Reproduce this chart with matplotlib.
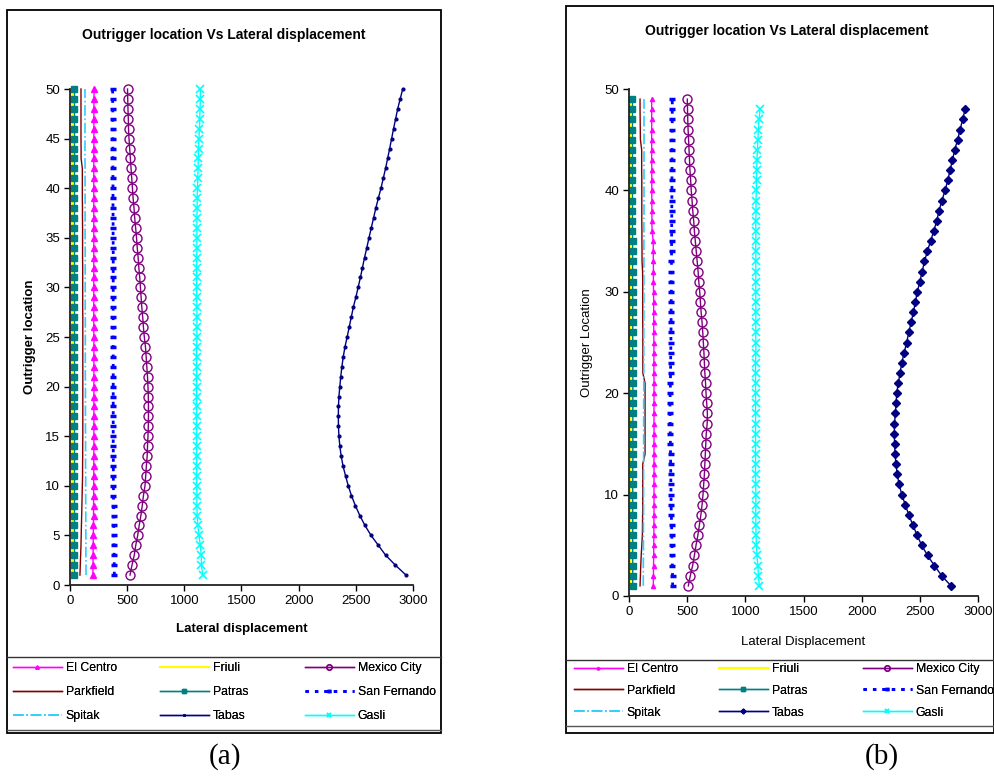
import matplotlib
matplotlib.use("Agg")
import matplotlib.pyplot as plt
from matplotlib.patches import Rectangle
from matplotlib.lines import Line2D

plt.rcParams['font.family'] = ['Liberation Sans', 'DejaVu Sans']

W, H = 995, 776

# ---- data, panel (a): floors 1..50 ----
floors_a = list(range(1, 51))
el_centro_a = [200, 201, 202, 203, 204, 205, 206, 206, 207, 207,
               208, 208, 208, 209, 209, 209, 209, 209, 209, 209,
               209, 209, 209, 209, 209, 208, 208, 208, 208, 208,
               208, 208, 208, 208, 208, 208, 208, 208, 208, 208,
               208, 208, 208, 209, 209, 209, 209, 209, 210, 210]
friuli_a = [18, 18, 18, 18, 18, 18, 18, 18, 18, 18,
            18, 18, 18, 18, 18, 18, 18, 18, 18, 18,
            18, 18, 18, 18, 18, 18, 18, 18, 18, 18,
            18, 18, 18, 18, 18, 18, 18, 18, 18, 18,
            18, 18, 18, 18, 18, 18, 18, 18, 18, 18]
mexico_a = [525, 542, 562, 575, 592, 605, 620, 632, 642, 656,
            662, 668, 675, 678, 682, 685, 686, 686, 685, 682,
            678, 672, 666, 660, 650, 642, 636, 628, 622, 616,
            610, 602, 596, 588, 582, 574, 566, 560, 552, 546,
            540, 534, 528, 522, 516, 512, 510, 507, 505, 503]
parkfield_a = [87, 90, 93, 96, 98, 100, 102, 104, 106, 108,
               110, 110, 111, 111, 112, 112, 112, 112, 112, 112,
               112, 112, 112, 112, 112, 112, 112, 111, 111, 111,
               111, 111, 110, 110, 110, 110, 109, 109, 108, 108,
               108, 108, 97, 97, 96, 96, 96, 96, 96, 96]
patras_a = [38, 38, 38, 38, 38, 38, 38, 38, 38, 38,
            38, 38, 38, 38, 38, 38, 38, 38, 38, 38,
            38, 38, 38, 38, 38, 38, 38, 38, 38, 38,
            38, 38, 38, 38, 38, 38, 38, 38, 38, 38,
            38, 38, 38, 38, 38, 38, 38, 38, 38, 38]
san_fern_a = [388, 387, 386, 385, 384, 383, 382, 381, 380, 380,
              379, 379, 379, 378, 378, 378, 378, 378, 378, 378,
              378, 378, 378, 378, 378, 378, 378, 378, 378, 378,
              378, 378, 378, 378, 377, 377, 377, 376, 376, 376,
              376, 375, 375, 375, 375, 374, 374, 374, 373, 373]
spitak_a = [140, 140, 139, 139, 139, 138, 138, 138, 137, 137,
            137, 136, 136, 136, 136, 135, 135, 135, 135, 135,
            134, 134, 134, 134, 134, 134, 134, 133, 133, 133,
            133, 133, 133, 133, 132, 132, 132, 132, 132, 132,
            132, 132, 131, 131, 131, 131, 131, 131, 131, 131]
tabas_a = [2939, 2846, 2761, 2697, 2633, 2580, 2535, 2496, 2462, 2434,
           2410, 2388, 2372, 2360, 2352, 2348, 2347, 2348, 2352, 2360,
           2368, 2378, 2390, 2405, 2424, 2442, 2460, 2478, 2500, 2520,
           2540, 2558, 2576, 2596, 2615, 2635, 2655, 2675, 2697, 2720,
           2740, 2760, 2778, 2796, 2813, 2830, 2848, 2866, 2888, 2910]
gasli_a = [1160, 1150, 1148, 1140, 1128, 1118, 1112, 1110, 1110, 1108,
           1108, 1108, 1108, 1108, 1108, 1108, 1108, 1108, 1108, 1108,
           1108, 1108, 1108, 1108, 1110, 1110, 1110, 1110, 1108, 1108,
           1108, 1108, 1108, 1110, 1110, 1110, 1110, 1112, 1112, 1115,
           1118, 1120, 1122, 1124, 1128, 1132, 1135, 1137, 1140, 1140]

# ---- data, panel (b): floors 1..49 (Tabas, Gasli 1..48) ----
floors_b = list(range(1, 50))
floors_b48 = list(range(1, 49))
el_centro_b = [209, 210, 211, 212, 213, 214, 214, 215, 215, 215,
               215, 215, 215, 215, 215, 215, 215, 215, 215, 215,
               215, 214, 214, 214, 214, 213, 213, 212, 212, 211,
               210, 210, 209, 209, 208, 198, 197, 197, 196, 196,
               196, 196, 195, 195, 195, 195, 195, 195, 195]
friuli_b = [10, 10, 10, 10, 10, 10, 10, 10, 10, 10,
            10, 10, 10, 10, 10, 10, 10, 10, 10, 10,
            10, 10, 10, 10, 10, 10, 10, 10, 10, 10,
            10, 10, 10, 10, 10, 10, 10, 10, 10, 10,
            10, 10, 10, 10, 10, 10, 10, 10, 10]
mexico_b = [510, 527, 547, 562, 576, 592, 605, 618, 628, 636,
            642, 648, 652, 656, 660, 664, 672, 674, 668, 662,
            658, 652, 648, 644, 639, 634, 628, 620, 614, 608,
            600, 594, 586, 578, 570, 562, 556, 548, 542, 535,
            530, 524, 520, 516, 512, 508, 505, 503, 501]
parkfield_b = [95, 98, 101, 105, 110, 115, 116, 117, 118, 118,
               118, 118, 118, 138, 138, 138, 138, 138, 138, 138,
               138, 119, 119, 119, 119, 119, 118, 118, 118, 118,
               118, 117, 112, 112, 111, 111, 110, 110, 110, 110,
               110, 109, 109, 109, 98, 97, 96, 95, 95]
patras_b = [32, 32, 32, 32, 32, 32, 32, 32, 32, 32,
            32, 32, 33, 33, 33, 33, 33, 33, 33, 33,
            33, 33, 33, 32, 32, 32, 32, 32, 32, 32,
            31, 31, 31, 31, 31, 30, 30, 30, 30, 30,
            30, 30, 30, 30, 30, 30, 30, 30, 30]
san_fern_b = [375, 374, 373, 372, 370, 368, 366, 364, 362, 361,
              360, 359, 358, 357, 356, 355, 354, 353, 352, 354,
              356, 357, 358, 359, 360, 361, 362, 362, 363, 364,
              364, 365, 365, 366, 366, 367, 367, 368, 368, 369,
              369, 370, 370, 370, 371, 371, 372, 372, 372]
spitak_b = [123, 123, 123, 124, 124, 124, 124, 125, 125, 125,
            125, 125, 126, 126, 126, 126, 126, 126, 126, 127,
            127, 127, 127, 127, 127, 127, 127, 128, 128, 128,
            128, 128, 128, 128, 128, 128, 128, 129, 129, 129,
            129, 129, 129, 129, 129, 129, 129, 129, 129]
tabas_b = [2768, 2688, 2625, 2566, 2516, 2476, 2440, 2405, 2375, 2345,
           2322, 2306, 2295, 2287, 2283, 2281, 2282, 2290, 2296, 2301,
           2315, 2330, 2345, 2365, 2387, 2405, 2425, 2445, 2462, 2478,
           2500, 2520, 2540, 2565, 2592, 2620, 2645, 2665, 2690, 2717,
           2740, 2760, 2780, 2800, 2825, 2846, 2868, 2889]
gasli_b = [1120, 1112, 1108, 1100, 1095, 1092, 1090, 1090, 1090, 1090,
           1090, 1088, 1088, 1088, 1088, 1088, 1088, 1088, 1088, 1088,
           1088, 1088, 1088, 1090, 1090, 1090, 1090, 1090, 1090, 1090,
           1090, 1090, 1090, 1090, 1090, 1090, 1090, 1092, 1092, 1094,
           1096, 1098, 1100, 1104, 1108, 1112, 1118, 1126]

names = ["El Centro", "Friuli", "Mexico City", "Parkfield", "Patras",
         "San Fernando", "Spitak", "Tabas", "Gasli"]


def fx(x):
    return x / W


def fy(y):
    return 1 - y / H


def styles(panel):
    tabas_marker = dict(marker='.', ms=4) if panel == 'a' else dict(marker='D', ms=4)
    return {
        "El Centro": dict(color='#FF00FF', lw=1, marker='^', ms=4 if panel == 'a' else 3),
        "Friuli": dict(color='#FFFF00', lw=1.5),
        "Mexico City": dict(color='#800080', lw=1, marker='o', ms=6.5, mfc='none', mew=1),
        "Parkfield": dict(color='#800000', lw=1),
        "Patras": dict(color='#008080', lw=1, marker='s', ms=5),
        "San Fernando": dict(color='#0000FF', lw=2, ls=(0, (1.2, 2.2)), marker='_', ms=5, mew=2.5),
        "Spitak": dict(color='#33CCFF', lw=1.2, ls='-.'),
        "Tabas": dict(color='#000080', lw=1, **tabas_marker),
        "Gasli": dict(color='#00FFFF', lw=1, marker='x', ms=6, mew=1.2),
    }


def frame(x0, y0, x1, y1, ydiv, ybot2):
    fig.add_artist(Rectangle((fx(x0), fy(y1)), fx(x1) - fx(x0), fy(y0) - fy(y1),
                             transform=fig.transFigure, fill=False, lw=1.3, ec='black'))
    fig.add_artist(Line2D([fx(x0), fx(x1)], [fy(ydiv), fy(ydiv)],
                          transform=fig.transFigure, lw=1.0, color='#333333'))
    fig.add_artist(Line2D([fx(x0), fx(x1)], [fy(ybot2), fy(ybot2)],
                          transform=fig.transFigure, lw=1.0, color='#555555'))


def panel(rect, series, yticks, bold, xlab, ylab, xl_y, yl_x, leg_x, leg_y, leg_sp, panel_id):
    ax = fig.add_axes(rect)
    st = styles(panel_id)
    handles = {}
    for name in names:
        fl, vals = series[name]
        ln, = ax.plot(vals, fl, clip_on=False, label=name, **st[name])
        handles[name] = ln
    ax.set_xlim(0, 3000)
    ax.set_ylim(0, 50)
    ax.set_xticks(range(0, 3001, 500))
    ax.set_yticks(yticks)
    for s in ['top', 'right']:
        ax.spines[s].set_visible(False)
    for s in ['left', 'bottom']:
        ax.spines[s].set_linewidth(1.3)
        ax.spines[s].set_color('#222222')
    ax.tick_params(direction='out', length=4, width=1, labelsize=9.5, pad=3)
    w = 'bold' if bold else 'normal'
    ax.set_xlabel(xlab, fontsize=9.5, fontweight=w)
    ax.set_ylabel(ylab, fontsize=9.5, fontweight=w)
    ax.xaxis.set_label_coords(0.5, xl_y)
    ax.yaxis.set_label_coords(yl_x, 0.5)
    cols = [["El Centro", "Parkfield", "Spitak"],
            ["Friuli", "Patras", "Tabas"],
            ["Mexico City", "San Fernando", "Gasli"]]
    for cx, col in zip(leg_x, cols):
        lg = fig.legend([handles[n] for n in col], col, loc='upper left',
                        bbox_to_anchor=(fx(cx), fy(leg_y)), bbox_transform=fig.transFigure,
                        frameon=False, fontsize=8.8, handlelength=4.0, handletextpad=0.32,
                        labelspacing=leg_sp, borderpad=0, borderaxespad=0, numpoints=1,
                        markerscale=0.6)
        fig.add_artist(lg)
    return ax


fig = plt.figure(figsize=(W / 100, H / 100), dpi=100)

series_a = {
    "El Centro": (floors_a, el_centro_a), "Friuli": (floors_a, friuli_a),
    "Mexico City": (floors_a, mexico_a), "Parkfield": (floors_a, parkfield_a),
    "Patras": (floors_a, patras_a), "San Fernando": (floors_a, san_fern_a),
    "Spitak": (floors_a, spitak_a), "Tabas": (floors_a, tabas_a),
    "Gasli": (floors_a, gasli_a),
}
series_b = {
    "El Centro": (floors_b, el_centro_b), "Friuli": (floors_b, friuli_b),
    "Mexico City": (floors_b, mexico_b), "Parkfield": (floors_b, parkfield_b),
    "Patras": (floors_b, patras_b), "San Fernando": (floors_b, san_fern_b),
    "Spitak": (floors_b, spitak_b), "Tabas": (floors_b48, tabas_b),
    "Gasli": (floors_b48, gasli_b),
}

# panel (a)
frame(7, 10, 441, 733, 657, 730)
panel([fx(70), fy(585), fx(413) - fx(70), fy(89) - fy(585)], series_a,
      range(0, 51, 5), True, "Lateral displacement", "Outrigger location",
      -0.077, -0.10, [13, 160, 305], 662, 1.0, 'a')
fig.text(fx(224), fy(35), "Outrigger location Vs Lateral displacement",
         ha='center', va='center', fontsize=10, fontweight='bold')
fig.text(fx(225), fy(757), "(a)", ha='center', va='center', fontsize=21,
         family='Liberation Serif')

# panel (b)
frame(566, 6, 994, 733, 660, 726)
panel([fx(629), fy(596), fx(978) - fx(629), fy(89) - fy(596)], series_b,
      range(0, 51, 10), False, "Lateral Displacement", "Outrigger Location",
      -0.079, -0.103, [574, 719, 863], 663, 0.8, 'b')
fig.text(fx(787), fy(31), "Outrigger location Vs Lateral displacement",
         ha='center', va='center', fontsize=10, fontweight='bold')
fig.text(fx(882), fy(757), "(b)", ha='center', va='center', fontsize=21,
         family='Liberation Serif')

fig.savefig("out.png", dpi=100)
